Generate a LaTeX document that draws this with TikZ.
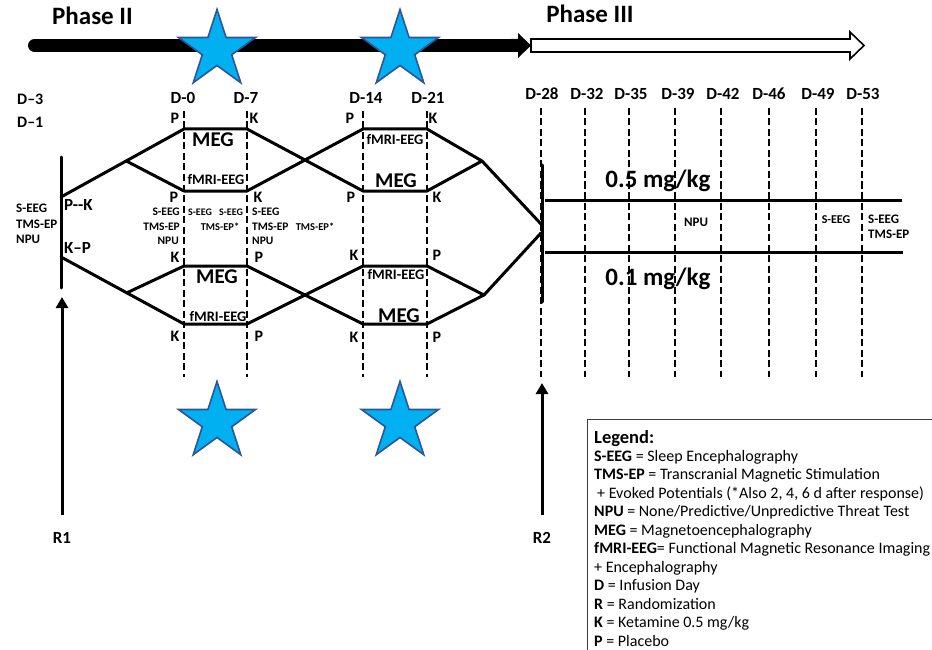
\documentclass[tikz,border=0pt]{standalone}
\usepackage{fontspec}
\setmainfont{Carlito}
\usetikzlibrary{shapes.geometric,arrows.meta,calc}
\definecolor{starfill}{RGB}{0,176,240}
\definecolor{starline}{RGB}{47,85,151}
\definecolor{boxline}{RGB}{60,60,60}

\begin{document}
\begin{tikzpicture}[x=1pt,y=-1pt,
  txt/.style={inner sep=0pt, anchor=base, font=\bfseries\fontsize{#1}{#1}\selectfont},
  legtxt/.style={inner sep=0pt, anchor=base west, font=\fontsize{16}{16}\selectfont},
  main/.style={line width=3pt, line cap=round, line join=round},
  daysline/.style={line width=2.2pt, dash pattern=on 7pt off 3.5pt},
  randarrow/.style={line width=3pt, -{Triangle[length=11pt,width=12pt]}},
  starnode/.style={star, star points=5, star point ratio=2.618, minimum size=81pt,
    inner sep=0pt, draw=starline, fill=starfill, line width=1.6pt}]
\useasboundingbox (0,0) rectangle (932,650);
\clip (0,0) rectangle (932,650);

% ---- timeline arrows
\draw[line width=13pt, line cap=round] (34.5,45.5) -- (512,45.5);
\fill (511,39) -- (518,39) -- (518,33) -- (531,45.5) -- (518,58) -- (518,52) -- (511,52) -- cycle;
\draw[line width=1.6pt, fill=white, line join=miter]
  (531,39) -- (850,39) -- (850,32) -- (864,45.5) -- (850,59) -- (850,52) -- (531,52) -- cycle;
\node[txt=25] (ph2) at (92.5,25) {Phase II};
\node[txt=25] (ph3) at (590,23) {Phase III};

% ---- stars
\node[starnode] (st1) at (217,50) {};
\node[starnode] (st2) at (400,50) {};
\node[starnode] (st3) at (217,422) {};
\node[starnode] (st4) at (400,422) {};

% ---- day labels
\node[txt=16, anchor=base west] (dm3) at (17,105) {D–3};
\node[txt=16, anchor=base west] (dm1) at (17,128) {D–1};
\foreach \n/\x/\t in {d0/183/D-0, d7/246/D-7, d14/366/D-14, d21/428/D-21}
  \node[txt=17] (l\n) at (\x,104) {\t};
\foreach \n/\x/\t in {d28/542/D-28, d32/587/D-32, d35/631/D-35, d39/678/D-39,
                      d42/723/D-42, d46/769/D-46, d49/818/D-49, d53/863/D-53}
  \node[txt=17] (l\n) at (\x,100) {\t};

% ---- infusion day lines
\foreach \n/\x in {d0/184, d7/247, d14/363, d21/427} {
  \coordinate (\n t) at (\x,111); \coordinate (\n b) at (\x,377);
  \draw[daysline] (\n t) -- (\n b);
}
\foreach \n/\x in {d28/541, d32/585, d35/629, d39/675, d42/721, d46/769, d49/816, d53/862} {
  \coordinate (\n t) at (\x,108); \coordinate (\n b) at (\x,377);
  \draw[daysline] (\n t) -- (\n b);
}

% ---- randomization R1
\coordinate (r1top) at (61,157); \coordinate (r1bot) at (61,288);
\draw[main] (r1top) -- (r1bot);
\node[txt=17] (r1) at (62,543) {R1};
\coordinate (r1tail) at (62,515); \coordinate (r1tip) at (62,297);
\draw[randarrow] (r1tail) -- (r1tip);

% ---- randomization R2
\coordinate (r2top) at (542,165); \coordinate (r2bot) at (542,302);
\draw[main] (r2top) -- (r2bot);
\node[txt=17] (r2) at (542,543) {R2};
\coordinate (r2tail) at (542,515); \coordinate (r2tip) at (542,383);
\draw[randarrow] (r2tail) -- (r2tip);

% ---- crossover arms
\coordinate (a1) at (61,197);  \coordinate (a2) at (61,257);
\foreach \b/\xl/\xr in {b1/184/247, b2/363/427} {
  \coordinate (\b tl) at (\xl,129); \coordinate (\b tr) at (\xr,129);
  \coordinate (\b ml) at (\xl,191); \coordinate (\b mr) at (\xr,191);
  \coordinate (\b nl) at (\xl,266); \coordinate (\b nr) at (\xr,266);
  \coordinate (\b bl) at (\xl,324); \coordinate (\b br) at (\xr,324);
}
\coordinate (u1) at ($(a1)!0.53!(b1tl)$);
\coordinate (l1) at ($(a2)!0.535!(b1bl)$);
\coordinate (u2) at (482,161); \coordinate (l2) at (484,295);
\coordinate (m1) at (541,224); \coordinate (m2) at (541,233);

\draw[main] (a1) -- (b1tl) -- (b1tr) -- (b2ml) -- (b2mr) -- (u2) -- (m1);
\draw[main] (u1) -- (b1ml) -- (b1mr) -- (b2tl) -- (b2tr) -- (u2);
\draw[main] (a2) -- (b1bl) -- (b1br) -- (b2nl) -- (b2nr) -- (l2) -- (m2);
\draw[main] (l1) -- (b1nl) -- (b1nr) -- (b2bl) -- (b2br) -- (l2);

% ---- dose arms
\coordinate (h1s) at (545,200); \coordinate (h1e) at (902,200);
\coordinate (h2s) at (545,252); \coordinate (h2e) at (903,252);
\draw[main, line cap=butt] (h1s) -- (h1e);
\draw[main, line cap=butt] (h2s) -- (h2e);
\node[txt=25] (dose5) at (658,187) {0.5 mg/kg};
\node[txt=25] (dose1) at (658,285) {0.1 mg/kg};

% ---- block labels
\node[txt=21] (meg1) at (213,147) {MEG};
\node[txt=14.5] (fe1) at (216,185) {fMRI-EEG};
\node[txt=21] (meg2) at (217,283) {MEG};
\node[txt=14.5] (fe2) at (218,321) {fMRI-EEG};
\node[txt=14.5] (fe3) at (395,145) {fMRI-EEG};
\node[txt=21] (meg3) at (396,188) {MEG};
\node[txt=14.5] (fe4) at (396,279) {fMRI-EEG};
\node[txt=21] (meg4) at (399,322) {MEG};

% ---- drug letters
\foreach \x/\y/\t in {175/124/P, 254/124/K, 350/124/P, 433/124/K,
                      174/203/P, 258/203/K, 175/262/K, 259/262/P, 175/341/K, 259/341/P,
                      351/203/P, 437/203/K, 354/260/K, 437/260/P, 354/342/K, 437/342/P}
  \node[txt=16] at (\x,\y) {\t};

% ---- assessments
\node[txt=13, anchor=base west] (la1) at (16,212) {S-EEG};
\node[txt=13, anchor=base west] (la2) at (16,228) {TMS-EP};
\node[txt=13, anchor=base west] (la3) at (16,243) {NPU};
\node[txt=17, anchor=base west] (pk) at (64,211) {P-{}-K};
\node[txt=17, anchor=base west] (kp) at (64,253) {K–P};

\node[txt=11.5, anchor=base east] (bl1) at (180,215) {S-EEG};
\node[txt=11.5, anchor=base east] (bl2) at (180,230) {TMS-EP};
\node[txt=11.5, anchor=base east] (bl3) at (179,244) {NPU};
\node[txt=10] (bi1) at (200,215) {S-EEG};
\node[txt=10] (bi2) at (231,215) {S-EEG};
\node[txt=10.5] (bi3) at (220,230) {TMS-EP*};
\node[txt=11.5, anchor=base west] (br1) at (252,215) {S-EEG};
\node[txt=11.5, anchor=base west] (br2) at (252,230) {TMS-EP};
\node[txt=11.5, anchor=base west] (br3) at (252,244) {NPU};
\node[txt=10.5] (bx1) at (315,230) {TMS-EP*};

\node[txt=13] (rn) at (696,226) {NPU};
\node[txt=12] (rs1) at (836,223) {S-EEG};
\node[txt=13, anchor=base west] (rs2) at (868,223) {S-EEG};
\node[txt=13, anchor=base west] (rt2) at (868,238) {TMS-EP};

% ---- legend
\node[draw=boxline, line width=1.2pt, anchor=north west, minimum width=360pt,
      minimum height=250pt, inner sep=0pt] (legendbox) at (587,419) {};
\node[legtxt, font=\bfseries\fontsize{18.5}{18.5}\selectfont] (lg0) at (594,443) {Legend:};
\node[legtxt] (lg1) at (594,461) {\textbf{S-EEG} = Sleep Encephalography};
\node[legtxt] (lg2) at (594,479.5) {\textbf{TMS-EP} = Transcranial Magnetic Stimulation};
\node[legtxt] (lg3) at (597,498) {+ Evoked Potentials (*Also 2, 4, 6 d after response)};
\node[legtxt] (lg4) at (594,516.5) {\textbf{NPU} = None/Predictive/Unpredictive Threat Test};
\node[legtxt] (lg5) at (594,535) {\textbf{MEG} = Magnetoencephalography};
\node[legtxt] (lg6) at (594,553.5) {\textbf{fMRI-EEG}= Functional Magnetic Resonance Imaging};
\node[legtxt] (lg7) at (594,572) {+ Encephalography};
\node[legtxt] (lg8) at (594,590.5) {\textbf{D} = Infusion Day};
\node[legtxt] (lg9) at (594,609) {\textbf{R} = Randomization};
\node[legtxt] (lg10) at (594,627.5) {\textbf{K} = Ketamine 0.5 mg/kg};
\node[legtxt] (lg11) at (594,646) {\textbf{P} = Placebo};
\end{tikzpicture}
\end{document}
